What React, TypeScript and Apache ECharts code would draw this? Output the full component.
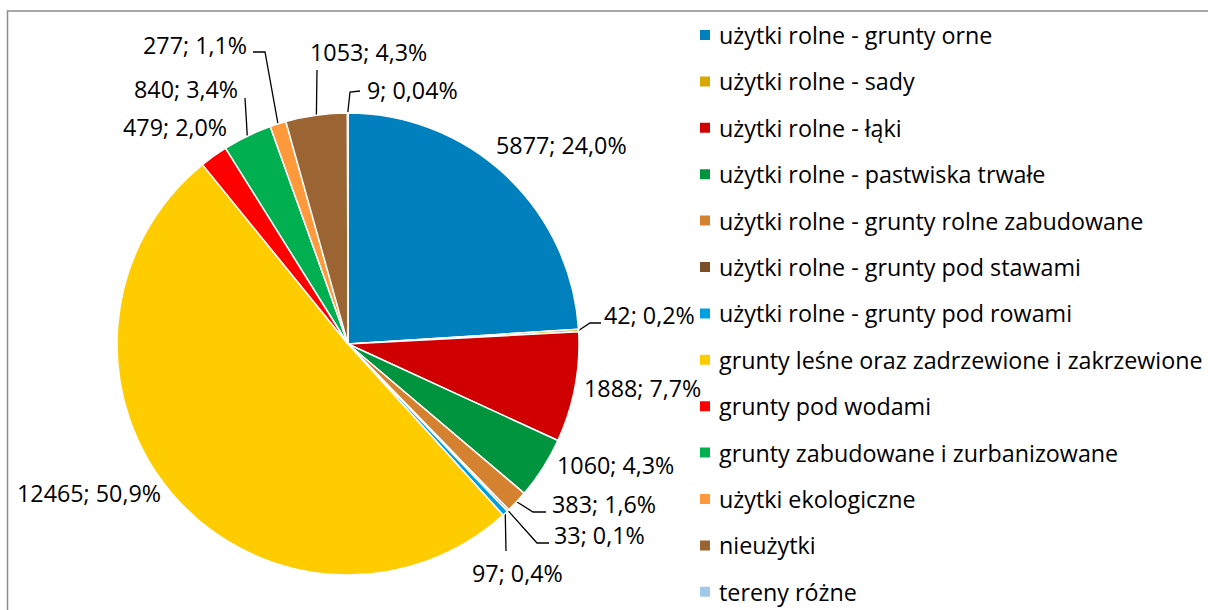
import React, { useEffect, useRef } from "react";
import * as echarts from "echarts";

const categories = [
  "użytki rolne - grunty orne",
  "użytki rolne - sady",
  "użytki rolne - łąki",
  "użytki rolne - pastwiska trwałe",
  "użytki rolne - grunty rolne zabudowane",
  "użytki rolne - grunty pod stawami",
  "użytki rolne - grunty pod rowami",
  "grunty leśne oraz zadrzewione i zakrzewione",
  "grunty pod wodami",
  "grunty zabudowane i zurbanizowane",
  "użytki ekologiczne",
  "nieużytki",
  "tereny różne",
];
const values = [5877, 42, 1888, 1060, 383, 33, 97, 12465, 479, 840, 277, 1053, 9];
const colors = [
  "#0080BC", "#D6A800", "#D00000", "#00943E", "#D58230", "#7B5028", "#00A0E0",
  "#FFCC00", "#FF0000", "#00B050", "#FF9A3C", "#9B6433", "#A0C8E8",
];

// label layout (left x, middle y) and leader line points (after the start on the pie edge)
const labelPos: number[][] = [
  [496, 145], [604, 315], [584, 388], [557, 465], [552, 504], [554, 535], [472, 573],
  [17, 493], [123, 127], [134, 89], [143, 45], [310, 52], [367, 90],
];
const leaderPts: Record<number, number[][]> = {
  1: [[590, 323], [601, 323]],
  4: [[533, 512], [546, 512]],
  5: [[537, 543], [549, 543]],
  6: [[506, 551]],
  9: [[245, 98]],
  10: [[265, 52], [253, 52]],
  11: [[317, 70]],
  12: [[350, 92], [360, 91]],
};

const FONT = "Open Sans";
const FS = 23.3;

export default function App() {
  const ref = useRef<HTMLDivElement>(null);
  useEffect(() => {
    document.body.style.margin = "0";
    const chart = echarts.init(ref.current!, null, { renderer: "svg" });
    const total = values.reduce((a, b) => a + b, 0);
    const fmtPct = (v: number) => {
      const p = (v / total) * 100;
      return (p < 0.1 ? p.toFixed(2) : p.toFixed(1)).replace(".", ",") + "%";
    };
    const data = values.map((v, i) => ({
      name: categories[i],
      value: v,
      itemStyle: { color: colors[i] },
      labelLine: { show: !!leaderPts[i] },
    }));
    chart.setOption({
      animation: false,
      backgroundColor: "#fff",
      graphic: [
        {
          type: "rect",
          shape: { x: 7.5, y: 11, width: 1400, height: 800 },
          style: { fill: "none", stroke: "#8c8c8c", lineWidth: 1.5 },
          silent: true,
        },
      ],
      legend: {
        orient: "vertical",
        left: 698,
        top: 23,
        height: 700,
        padding: 0,
        itemWidth: 12,
        itemHeight: 12,
        itemGap: 22.4,
        icon: "rect",
        textStyle: { fontFamily: FONT, fontSize: FS, color: "#000", lineHeight: 24, padding: [0, 0, 0, 3] },
        data: categories,
      },
      series: [
        {
          type: "pie",
          center: [348, 344],
          radius: 231,
          startAngle: 90,
          clockwise: true,
          data,
          itemStyle: { borderColor: "#fff", borderWidth: 1.5 },
          label: {
            show: true,
            position: "outside",
            overflow: "none",
            fontFamily: FONT,
            fontSize: FS,
            color: "#000",
            formatter: (p: any) => `${p.value}; ${fmtPct(p.value)}`,
          },
          labelLine: { show: true, lineStyle: { color: "#000", width: 1.3 } },
          labelLayout: (params: any) => {
            const i = params.dataIndex;
            const pos = labelPos[i];
            const res: any = { x: pos[0], y: pos[1], align: "left", verticalAlign: "middle" };
            if (leaderPts[i] && params.labelLinePoints) {
              const start = params.labelLinePoints[0];
              res.labelLinePoints = [start, ...leaderPts[i]];
            }
            return res;
          },
        },
      ],
    });
    return () => chart.dispose();
  }, []);
  return <div ref={ref} style={{ width: 1208, height: 610 }} />;
}
